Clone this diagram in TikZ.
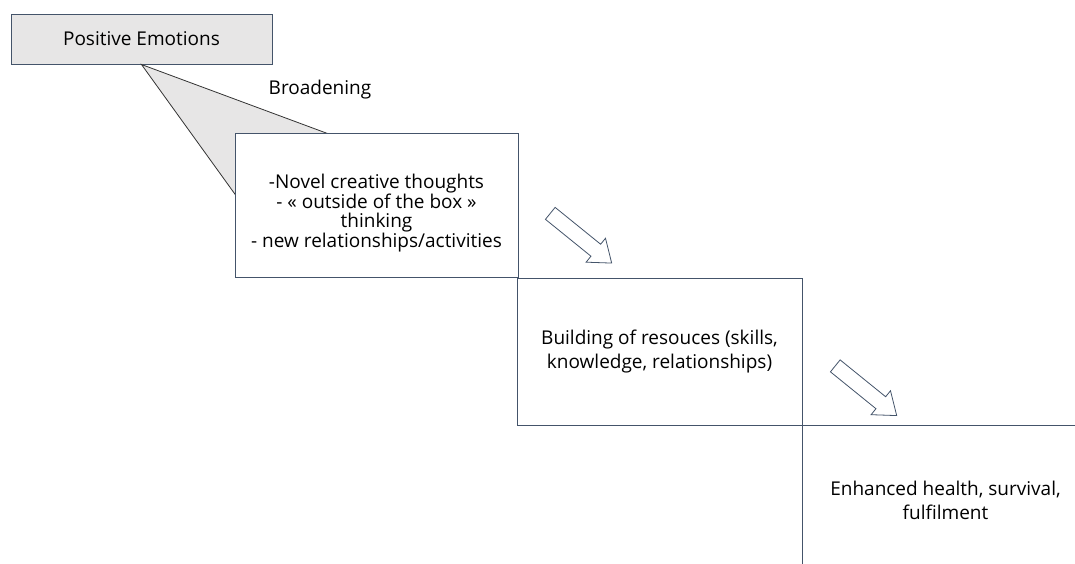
\documentclass[tikz,border=0pt]{standalone}
\usepackage{fontspec}
\setmainfont{Open Sans}
\usetikzlibrary{shapes.arrows,calc,positioning}
\definecolor{edge}{HTML}{44546A}
\definecolor{shade}{HTML}{E7E6E6}
\tikzset{
  stage/.style={draw=edge,line width=1pt,fill=white,align=center,inner sep=0pt},
  flow/.style={single arrow,draw=edge,fill=white,line width=0.8pt,inner sep=7.3pt,
    minimum height=79pt,single arrow head extend=7.7pt,single arrow tip angle=74,rotate=-39}
}

\begin{document}
\begin{tikzpicture}[x=1pt,y=-1pt,font=\fontsize{19}{19.7}\selectfont]
\clip (0,0) rectangle (1075,563);
\node[stage,fill=shade,minimum width=261pt,minimum height=50pt] (emo) at (141.5,39) {Positive Emotions};
% broadening wedge, runs under the next box
\coordinate (wideR) at (345,140);
\coordinate (wideL) at (250,215);
\draw[black!80,fill=shade,line width=0.8pt] (emo.south) -- (wideR) -- (wideL) -- cycle;
\node (brd) at (320,90) {Broadening};
\node[stage,minimum width=283pt,minimum height=144pt] (nov) at (376.5,205) {};
\node[align=center] (novtext) at ([yshift=-8pt]nov.center) {-Novel creative thoughts\\- « outside of the box »\\thinking\\- new relationships/activities};
\node[stage,minimum width=285pt,minimum height=147pt,font=\fontsize{19}{24}\selectfont] (res) at (659.5,351.5) {Building of resouces (skills,\\knowledge, relationships)};
\node[stage,minimum width=287pt,minimum height=150pt,font=\fontsize{19}{24}\selectfont] (out) at (945.5,500) {Enhanced health, survival,\\fulfilment};
% arrows between the steps
\node[flow] (push1) at (577,235) {};
\node[flow] (push2) at (862,387.5) {};
\end{tikzpicture}
\end{document}
